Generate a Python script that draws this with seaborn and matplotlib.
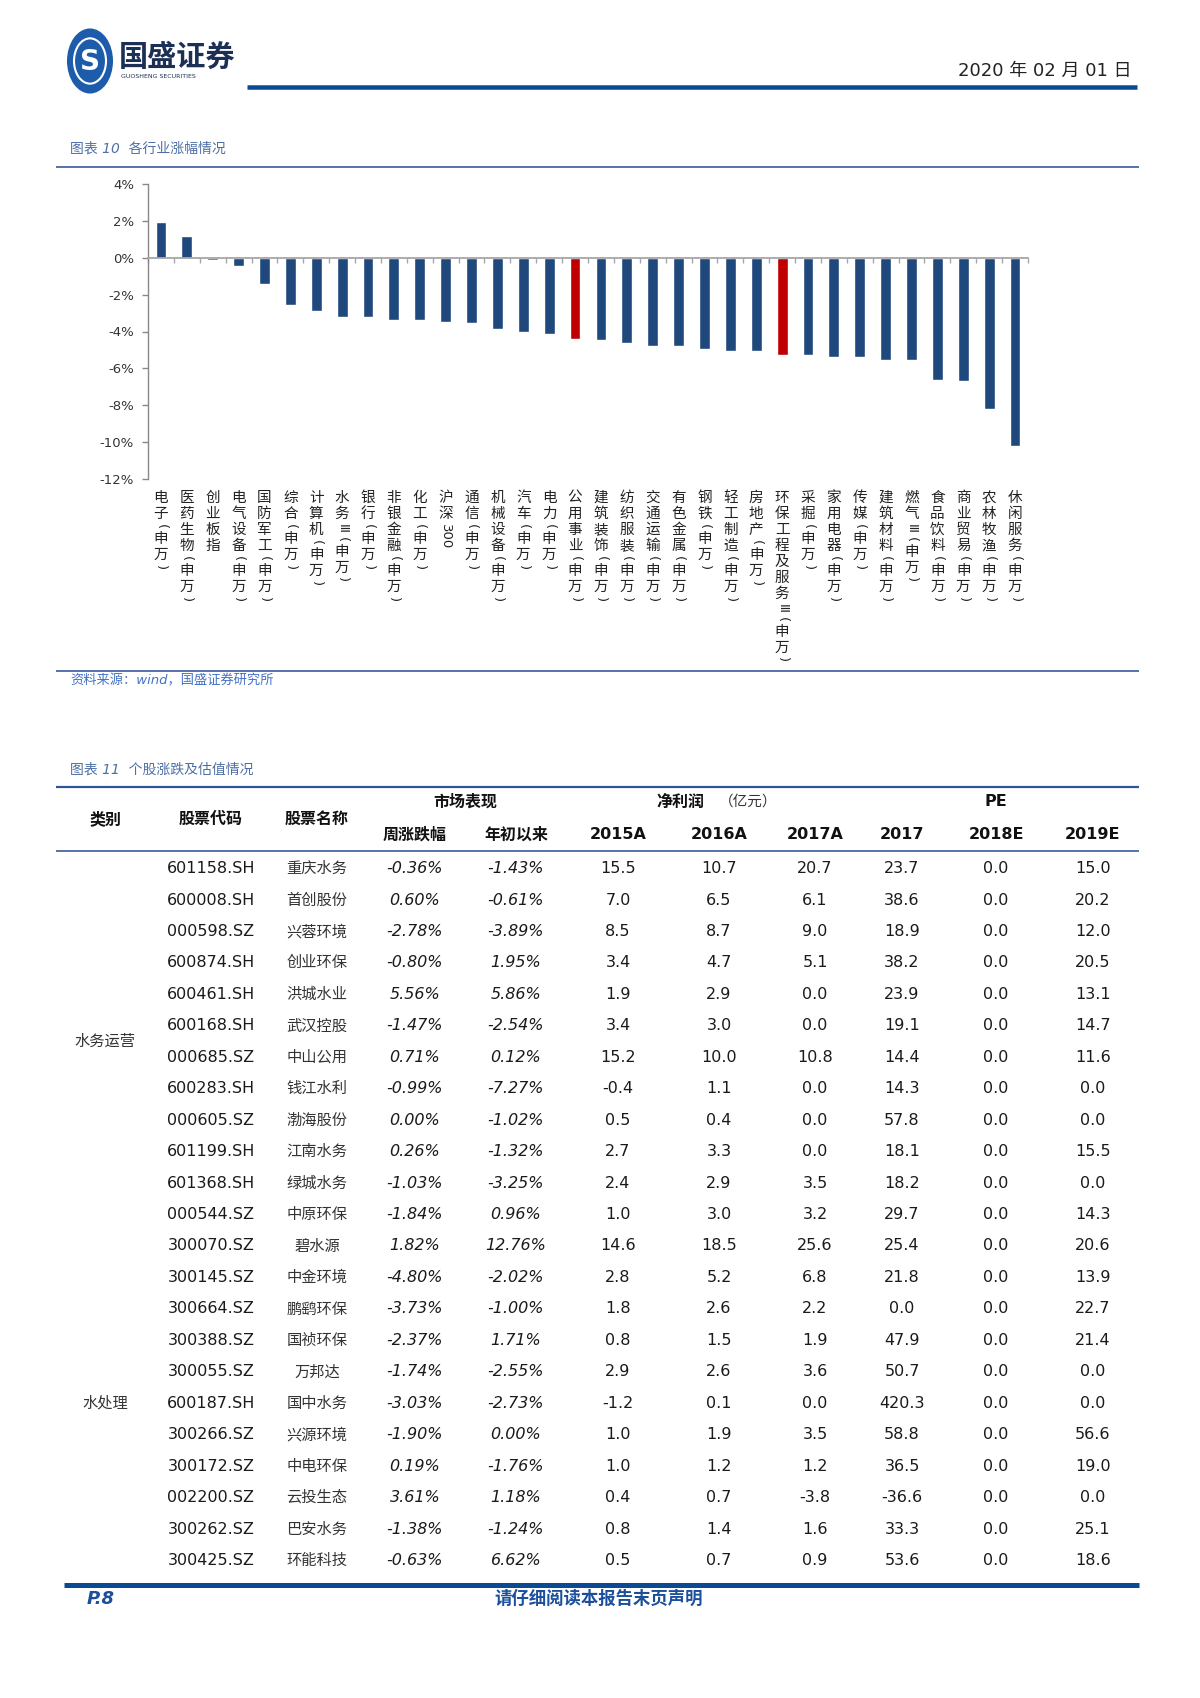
import numpy as np
import pandas as pd
import matplotlib
matplotlib.use('Agg')
import matplotlib.pyplot as plt
import matplotlib.transforms as mtransforms
from matplotlib.lines import Line2D
from matplotlib.patches import Circle
import seaborn as sns

# ---------------- data ----------------
industries = ['电子(申万)', '医药生物(申万)', '创业板指', '电气设备(申万)', '国防军工(申万)',
              '综合(申万)', '计算机(申万)', '水务Ⅲ(申万)', '银行(申万)', '非银金融(申万)',
              '化工(申万)', '沪深300', '通信(申万)', '机械设备(申万)', '汽车(申万)',
              '电力(申万)', '公用事业(申万)', '建筑装饰(申万)', '纺织服装(申万)', '交通运输(申万)',
              '有色金属(申万)', '钢铁(申万)', '轻工制造(申万)', '房地产(申万)', '环保工程及服务Ⅲ(申万)',
              '采掘(申万)', '家用电器(申万)', '传媒(申万)', '建筑材料(申万)', '燃气Ⅲ(申万)',
              '食品饮料(申万)', '商业贸易(申万)', '农林牧渔(申万)', '休闲服务(申万)']
changes = [1.92, 1.18, -0.13, -0.45, -1.43, -2.57, -2.91, -3.22, -3.24, -3.40,
           -3.40, -3.49, -3.56, -3.89, -4.05, -4.13, -4.41, -4.47, -4.63, -4.79,
           -4.79, -4.96, -5.05, -5.05, -5.28, -5.29, -5.37, -5.37, -5.54, -5.54,
           -6.61, -6.68, -8.23, -10.21]
highlight = ['公用事业(申万)', '环保工程及服务Ⅲ(申万)']
ytick_vals = [4, 2, 0, -2, -4, -6, -8, -10, -12]
ytick_labels = ['4%', '2%', '0%', '-2%', '-4%', '-6%', '-8%', '-10%', '-12%']

codes = ['601158.SH', '600008.SH', '000598.SZ', '600874.SH', '600461.SH', '600168.SH',
         '000685.SZ', '600283.SH', '000605.SZ', '601199.SH', '601368.SH', '000544.SZ',
         '300070.SZ', '300145.SZ', '300664.SZ', '300388.SZ', '300055.SZ', '600187.SH',
         '300266.SZ', '300172.SZ', '002200.SZ', '300262.SZ', '300425.SZ']
names = ['重庆水务', '首创股份', '兴蓉环境', '创业环保', '洪城水业', '武汉控股', '中山公用',
         '钱江水利', '渤海股份', '江南水务', '绿城水务', '中原环保', '碧水源', '中金环境',
         '鹏鹞环保', '国祯环保', '万邦达', '国中水务', '兴源环境', '中电环保', '云投生态',
         '巴安水务', '环能科技']
week_chg = [-0.36, 0.60, -2.78, -0.80, 5.56, -1.47, 0.71, -0.99, 0.00, 0.26, -1.03, -1.84,
            1.82, -4.80, -3.73, -2.37, -1.74, -3.03, -1.90, 0.19, 3.61, -1.38, -0.63]
ytd_chg = [-1.43, -0.61, -3.89, 1.95, 5.86, -2.54, 0.12, -7.27, -1.02, -1.32, -3.25, 0.96,
           12.76, -2.02, -1.00, 1.71, -2.55, -2.73, 0.00, -1.76, 1.18, -1.24, 6.62]
np_2015a = [15.5, 7.0, 8.5, 3.4, 1.9, 3.4, 15.2, -0.4, 0.5, 2.7, 2.4, 1.0,
            14.6, 2.8, 1.8, 0.8, 2.9, -1.2, 1.0, 1.0, 0.4, 0.8, 0.5]
np_2016a = [10.7, 6.5, 8.7, 4.7, 2.9, 3.0, 10.0, 1.1, 0.4, 3.3, 2.9, 3.0,
            18.5, 5.2, 2.6, 1.5, 2.6, 0.1, 1.9, 1.2, 0.7, 1.4, 0.7]
np_2017a = [20.7, 6.1, 9.0, 5.1, 0.0, 0.0, 10.8, 0.0, 0.0, 0.0, 3.5, 3.2,
            25.6, 6.8, 2.2, 1.9, 3.6, 0.0, 3.5, 1.2, -3.8, 1.6, 0.9]
pe_2017 = [23.7, 38.6, 18.9, 38.2, 23.9, 19.1, 14.4, 14.3, 57.8, 18.1, 18.2, 29.7,
           25.4, 21.8, 0.0, 47.9, 50.7, 420.3, 58.8, 36.5, -36.6, 33.3, 53.6]
pe_2018e = [0.0, 0.0, 0.0, 0.0, 0.0, 0.0, 0.0, 0.0, 0.0, 0.0, 0.0, 0.0,
            0.0, 0.0, 0.0, 0.0, 0.0, 0.0, 0.0, 0.0, 0.0, 0.0, 0.0]
pe_2019e = [15.0, 20.2, 12.0, 20.5, 13.1, 14.7, 11.6, 0.0, 0.0, 15.5, 0.0, 14.3,
            20.6, 13.9, 22.7, 21.4, 0.0, 0.0, 56.6, 19.0, 0.0, 25.1, 18.6]
group_labels = ['水务运营', '水处理']
group_sizes = [12, 11]

# ---------------- style ----------------
sns.set_theme(style='white')
plt.rcParams['font.family'] = ['DejaVu Sans', 'Noto Sans CJK SC']
plt.rcParams['axes.unicode_minus'] = False
CJK = ['Noto Sans CJK SC', 'DejaVu Sans']

W, H = 1200, 1698
fig = plt.figure(figsize=(W / 100, H / 100), dpi=100)
fig.patch.set_facecolor('white')


def T(x, y, s, **kw):
    return fig.text(x / W, 1 - y / H, s, **kw)


def L(x0, x1, y, lw_px, color):
    fig.add_artist(Line2D([x0 / W, x1 / W], [1 - y / H, 1 - y / H], transform=fig.transFigure,
                          lw=lw_px * 0.72, color=color, solid_capstyle='butt'))


BLUE = '#0B4A93'
TITLE_BLUE = '#4E6FA6'

# ---------------- page header ----------------
logo = Circle((90 / W, 1 - 61 / H), 23 / W, transform=fig.transFigure, facecolor='#1D5CAB',
              edgecolor='none')
fig.add_artist(logo)
ring = Circle((90 / W, 1 - 61 / H), 16 / W, transform=fig.transFigure, facecolor='none',
              edgecolor='white', lw=1.5)
fig.add_artist(ring)
T(90, 62, 'S', fontsize=20, fontweight='bold', color='white', ha='center', va='center')
T(119, 57, '国盛证券', fontsize=21, fontweight='bold', color='#1C2F55', ha='left', va='center',
  family=CJK)
T(121, 77, 'GUOSHENG SECURITIES', fontsize=4.5, color='#1C2F55', ha='left', va='center')
T(1132, 71, '2020 年 02 月 01 日', fontsize=13, color='#222222', ha='right', va='center')
L(247, 1137, 87, 4.5, BLUE)

# ---------------- chart section ----------------
T(70, 149, '图表 10  各行业涨幅情况', fontsize=10, color=TITLE_BLUE, ha='left', va='center',
  fontstyle='italic')
L(56, 1139, 167, 1.6, '#2F5597')

ax = fig.add_axes([148 / W, 1 - 479 / H, 880 / W, 295 / H])
df = pd.DataFrame({'industry': industries, 'change': changes})
palette = {k: ('#C00000' if k in highlight else '#1F497D') for k in industries}
sns.barplot(data=df, x='industry', y='change', hue='industry', palette=palette,
            legend=False, width=0.42, saturation=1, ax=ax)
ax.set_xlim(-0.5, len(industries) - 0.5)
ax.set_ylim(-12, 4)
ax.set_xlabel('')
ax.set_ylabel('')
ax.set_yticks(ytick_vals)
ax.set_yticklabels(ytick_labels, fontsize=9.5, color='#333333')
ax.tick_params(axis='y', which='major', direction='out', length=4, width=1, color='#888888',
               pad=6, left=True)
for s in ['top', 'right']:
    ax.spines[s].set_visible(False)
ax.spines['left'].set_color('#888888')
ax.spines['left'].set_linewidth(1.0)
ax.spines['bottom'].set_position(('data', 0))
ax.spines['bottom'].set_color('#A6A6A6')
ax.spines['bottom'].set_linewidth(1.3)
ax.set_xticks(np.arange(len(industries)))
ax.set_xticklabels([''] * len(industries))
ax.tick_params(axis='x', which='major', length=0)
ax.set_xticks(np.arange(-0.5, len(industries), 1.0), minor=True)
ax.tick_params(axis='x', which='minor', direction='out', length=3.5, width=1, color='#A6A6A6',
               bottom=True)
ax.grid(False)
ax.set_facecolor('white')


def label_units(label):
    units = []
    i = 0
    while i < len(label):
        c = label[i]
        if c.isascii() and c.isdigit():
            j = i
            while j < len(label) and label[j].isascii() and label[j].isdigit():
                j += 1
            units.append((label[i:j], -90, 0.6 * (j - i)))
            i = j
            continue
        if c in '()':
            units.append((c, -90, 0.55))
        elif c == 'Ⅲ':
            units.append((c, -90, 0.8))
        else:
            units.append((c, 0, 1.0))
        i += 1
    return units


blend = mtransforms.blended_transform_factory(ax.transData, fig.transFigure)
top_px = 490.0
step = 16.0
for i, lab in enumerate(industries):
    cum = 0.0
    for txt, rot, f in label_units(lab):
        yc = top_px + (cum + f / 2.0) * step
        fam = CJK if rot == 0 else ['DejaVu Sans', 'Noto Sans CJK SC']
        ax.text(i, 1 - yc / H, txt, transform=blend, rotation=rot, ha='center', va='center',
                fontsize=10.5 if rot == 0 else 9.5, color='#222222', family=fam,
                rotation_mode='anchor' if rot == 0 else 'default', clip_on=False)
        cum += f

L(56, 1139, 671, 1.6, '#2F5597')
T(70, 681, '资料来源：wind，国盛证券研究所', fontsize=9.5, color='#4472C4', ha='left', va='center',
  fontstyle='italic')

# ---------------- table section ----------------
T(70, 770, '图表 11  个股涨跌及估值情况', fontsize=10, color=TITLE_BLUE, ha='left', va='center',
  fontstyle='italic')
L(56, 1139, 787, 2.2, '#2F5597')
L(56, 1139, 851, 1.6, '#2F5597')

col_x = [105, 211, 317, 415, 516, 618, 719, 815, 902, 996, 1093]
HB = dict(fontsize=11.5, fontweight='bold', color='#111111', ha='center', va='center')
T(col_x[0], 819, '类别', family=CJK, **HB)
T(col_x[1], 819, '股票代码', family=CJK, **HB)
T(col_x[2], 819, '股票名称', family=CJK, **HB)
T((col_x[3] + col_x[4]) / 2, 802, '市场表现', family=CJK, **HB)
T(680, 802, '净利润', family=CJK, **HB)
T(748, 802, '（亿元）', family=CJK, fontsize=10.5, color='#333333', ha='center', va='center')
T(col_x[9], 802, 'PE', **HB)
T(col_x[3], 835, '周涨跌幅', family=CJK, **HB)
T(col_x[4], 835, '年初以来', family=CJK, **HB)
for cx, h in zip(col_x[5:], ['2015A', '2016A', '2017A', '2017', '2018E', '2019E']):
    T(cx, 835, h, **HB)

row0, rstep = 868.6, 31.45
NUM = dict(fontsize=11.5, color='#1A1A1A', ha='center', va='center')
for r in range(len(codes)):
    y = row0 + r * rstep
    T(col_x[1], y, codes[r], **NUM)
    T(col_x[2], y, names[r], family=CJK, fontsize=11, color='#333333', ha='center', va='center')
    T(col_x[3], y, f'{week_chg[r]:.2f}%', fontstyle='italic', **NUM)
    T(col_x[4], y, f'{ytd_chg[r]:.2f}%', fontstyle='italic', **NUM)
    for cx, arr in zip(col_x[5:], [np_2015a, np_2016a, np_2017a, pe_2017, pe_2018e, pe_2019e]):
        T(cx, y, f'{arr[r]:.1f}', **NUM)

start = 0
for g, n in zip(group_labels, group_sizes):
    y = row0 + (start + (n - 1) / 2.0) * rstep
    T(col_x[0], y, g, family=CJK, fontsize=11, color='#333333', ha='center', va='center')
    start += n

# ---------------- footer ----------------
L(64, 1139, 1585, 5, BLUE)
T(87, 1599, 'P.8', fontsize=13, fontweight='bold', fontstyle='italic', color='#1B4F9C',
  ha='left', va='center')
T(599, 1599, '请仔细阅读本报告末页声明', fontsize=12.5, fontweight='bold', color='#1B4F9C',
  ha='center', va='center', family=CJK)

fig.savefig('out.png', dpi=100, facecolor='white')
